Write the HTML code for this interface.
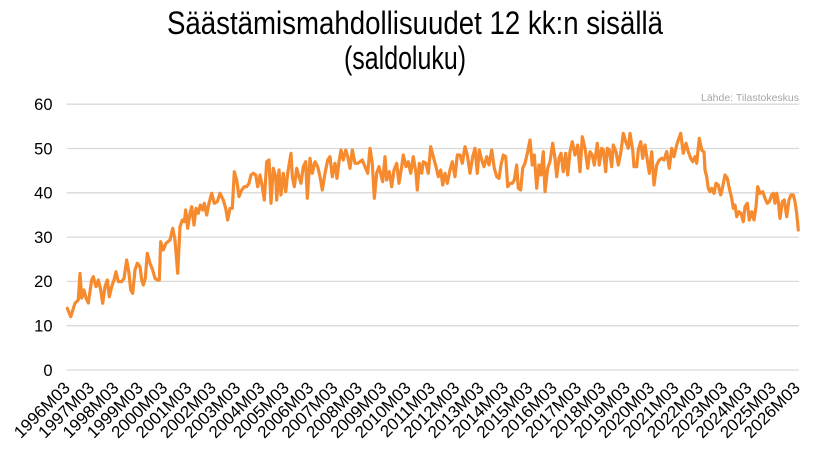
<!DOCTYPE html>
<html>
<head>
<meta charset="utf-8">
<style>
html,body{margin:0;padding:0;background:#ffffff;}
svg{display:block;}
</style>
</head>
<body>
<svg width="825" height="453" viewBox="0 0 825 453" xmlns="http://www.w3.org/2000/svg">
<rect width="825" height="453" fill="#ffffff"/>
<g font-family="'Liberation Sans', Arial, sans-serif" fill="#000">
<text x="167" y="34" font-size="32" textLength="496" lengthAdjust="spacingAndGlyphs">Säästämismahdollisuudet 12 kk:n sisällä</text>
<text x="344" y="69" font-size="32" textLength="122" lengthAdjust="spacingAndGlyphs">(saldoluku)</text>
</g>
<text x="799" y="101" font-family="'Liberation Sans', Arial, sans-serif" font-size="10.5" fill="#a6a6a6" text-anchor="end" textLength="98" lengthAdjust="spacingAndGlyphs">Lähde: Tilastokeskus</text>
<g stroke="#d9d9d9" stroke-width="1.3">
<line x1="66.7" y1="104.2" x2="799" y2="104.2"/>
<line x1="66.7" y1="148.5" x2="799" y2="148.5"/>
<line x1="66.7" y1="192.8" x2="799" y2="192.8"/>
<line x1="66.7" y1="237.1" x2="799" y2="237.1"/>
<line x1="66.7" y1="281.4" x2="799" y2="281.4"/>
<line x1="66.7" y1="325.7" x2="799" y2="325.7"/>
<line x1="66.7" y1="370" x2="799" y2="370"/>
</g>
<g font-family="'Liberation Sans', Arial, sans-serif" font-size="16.5" fill="#000" text-anchor="end">
<text x="52.5" y="110">60</text>
<text x="52.5" y="154.3">50</text>
<text x="52.5" y="198.6">40</text>
<text x="52.5" y="242.9">30</text>
<text x="52.5" y="287.2">20</text>
<text x="52.5" y="331.5">10</text>
<text x="52.5" y="375.8">0</text>
</g>
<g font-family="'Liberation Sans', Arial, sans-serif" font-size="17" fill="#000" text-anchor="end" id="xl"></g>
<polyline fill="none" stroke="#f68a2e" stroke-width="3.2" stroke-linejoin="round" stroke-linecap="round" points="
67.3,308.3 70.7,316.7 75,303.3 78.3,300 80,273.3 81.7,298 84,290 86,298 88.3,303 91.7,280 93.3,276.7 96,286.7 98.3,280 100.7,290 102.7,303.3 105,286.7 107.3,280 109.3,296.7 111.7,286.7 114,280 116,271.7 118.3,281.7 121.7,281.7 124,278.3 126.7,260 129,273.3 130.7,290 132.7,293.3 135,270 137.3,263.3 140,266.7 141.7,280 143.3,285 145.3,278.3 147.3,253.3 150,263.3 152.7,270 155,278.3 157.3,280 159.3,280 160.7,241.7 163.3,250 166,243.3 170,240 172.7,228.3
175,240 177.7,273.3 180,226.7 182.3,220 184.3,221.7 185.7,210 187.7,228.3 190,213.3 191.7,206.7 194,225 196,208.3 198.3,213.3 200.3,205 202.7,210 204.3,203.3 206.7,215 209,203.3 211.7,193.3 214.3,203.3 217.3,201.7 220,193.3 223.3,200 225.7,208.3 227.7,220 230,208.3 232.3,208.3 234.3,171.7 236.7,180 239,196.7 241.7,190 244.3,186.7 246.7,186.7 249,183.3 251,175 253.3,173.3 255.7,175 257.7,186.7 260,175 262.3,186.7 264.3,200 266.7,161.7 269,160 271,203.3 273.3,168.3 275.7,176.7
276.7,200 279,170 281,195 283.3,173.3 285.7,191.7 287.7,173.3 291,153.3 292.3,176.7 294.3,186.7 296.7,168.3 299,176.7 301,183.3 303.3,166.7 305.7,161.7 307.3,198.3 310,158.3 312.3,173.3 315,161.7 317.7,166.7 320,176.7 322.3,190 325,173.3 327.7,160 330,156.7 332.3,176.7 335,163.3 337,178.3 339,161.7 341,150 343.3,160 345.7,150 347.7,156.7 350,168.3 352.3,150 355,163.3 357.7,163.3 360,161.7 362.3,160 365,166.7 367.7,173.3 370,148.3 372.3,163.3 374.3,198.3 376.7,173.3 379,166.7
382.7,181.7 385,156.7 386.7,180 389.3,171.7 391.7,186.7 394,170 396.7,163.3 399,183.3 401.7,166.7 403.3,155 406,166.7 408.3,161.7 410.7,173.3 413.3,156.7 416,173.3 417.3,190 419.3,163.3 421.7,173.3 423.3,161.7 426,163.3 428.3,173.3 430.7,146.7 433.3,156.7 436,166.7 438.3,176.7 440.7,170 442.7,185 445,173.3 447.3,183.3 450,170 452.3,161.7 455,176.7 457.3,155 460,155 462.3,163.3 465,146.7 467.3,155 470,173.3 472.7,156.7 475,148.3 477.3,173.3 479.3,150 481.7,160 484,166.7 486.7,156.7
489,165 491.7,150 494.3,168.3 496.7,176.7 499,178.3 501,165 503.3,155 505.7,156.7 507.7,186.7 510,183.3 512.3,183.3 514.3,180 516.7,165 518.3,188.3 520.7,190 522.7,168.3 525,163.3 527.7,151.7 530,140 532.3,165 534.3,155 536.7,188.3 539,165 541,175 543.3,151.7 545,191.7 547.7,168.3 550,161.7 552.7,143.3 555,158.3 556.7,176.7 559,158.3 561,153.3 563.3,171.7 565.7,153.3 567.7,175 570,151.7 572.3,141.7 575,155 577.7,145 580,171.7 582.3,136.7 585,148.3 587.7,168.3 590,151.7 592.3,155 594.3,165
597.3,143.3 599.3,165 601.7,148.3 603.3,150 605.7,171.7 607.3,148.3 609.3,150 611.7,166.7 613.3,145 616,151.7 618.3,165 620.7,153.3 623.3,133.3 625.7,141.7 628.3,148.3 630,133.3 632.7,150 634,166.7 636.7,166.7 638.3,150 640.7,141.7 642.7,158.3 645,145 647.3,160 649.3,173.3 651.7,151.7 654,185 656.7,165 659.3,160 661.7,158.3 664,160 666.7,151.7 669.3,168.3 671.7,148.3 674,156.7 676.7,145 678.3,140 680.7,133.3 683.3,153.3 686,143.3 688.3,151.7 690.7,158.3 692.7,161.7 695,156.7 696.7,163.3 699.3,138.3 701.7,150 704,152
705,170 706.7,176.7 708.3,188.3 710,191.7 711.7,188.3 714,193.3 716,183.3 718.3,185 720.7,195 722.7,186.7 725,175 727.3,178.3 729.3,188.3 731.7,198.3 733.3,208.3 735,205 736.7,216.7 739,211.7 741,213.3 743.3,221.7 745,206.7 747.3,203.3 749.3,220 751.7,211.7 754,220 756,206.7 757.7,186.7 760,193.3 762.7,191.7 765,198.3 767.3,203.3 769.3,201.7 771.7,195 773.3,193.3 775,203.3 776.7,193.3 778.3,201.7 780,218.3 782.3,201.7 784.3,200 786.7,216.7 789,200 791,195 793.3,195 795,201.7 796.7,213.3 798.3,230"/>
<g font-family="'Liberation Sans', Arial, sans-serif" font-size="17" fill="#000" text-anchor="end">
<text transform="translate(71,389) rotate(-45)">1996M03</text>
<text transform="translate(95.3,389) rotate(-45)">1997M03</text>
<text transform="translate(119.7,389) rotate(-45)">1998M03</text>
<text transform="translate(144,389) rotate(-45)">1999M03</text>
<text transform="translate(168.4,389) rotate(-45)">2000M03</text>
<text transform="translate(192.7,389) rotate(-45)">2001M03</text>
<text transform="translate(217.1,389) rotate(-45)">2002M03</text>
<text transform="translate(241.4,389) rotate(-45)">2003M03</text>
<text transform="translate(265.8,389) rotate(-45)">2004M03</text>
<text transform="translate(290.1,389) rotate(-45)">2005M03</text>
<text transform="translate(314.5,389) rotate(-45)">2006M03</text>
<text transform="translate(338.8,389) rotate(-45)">2007M03</text>
<text transform="translate(363.2,389) rotate(-45)">2008M03</text>
<text transform="translate(387.5,389) rotate(-45)">2009M03</text>
<text transform="translate(411.9,389) rotate(-45)">2010M03</text>
<text transform="translate(436.2,389) rotate(-45)">2011M03</text>
<text transform="translate(460.6,389) rotate(-45)">2012M03</text>
<text transform="translate(484.9,389) rotate(-45)">2013M03</text>
<text transform="translate(509.3,389) rotate(-45)">2014M03</text>
<text transform="translate(533.6,389) rotate(-45)">2015M03</text>
<text transform="translate(558,389) rotate(-45)">2016M03</text>
<text transform="translate(582.3,389) rotate(-45)">2017M03</text>
<text transform="translate(606.7,389) rotate(-45)">2018M03</text>
<text transform="translate(631,389) rotate(-45)">2019M03</text>
<text transform="translate(655.4,389) rotate(-45)">2020M03</text>
<text transform="translate(679.7,389) rotate(-45)">2021M03</text>
<text transform="translate(704.1,389) rotate(-45)">2022M03</text>
<text transform="translate(728.4,389) rotate(-45)">2023M03</text>
<text transform="translate(752.8,389) rotate(-45)">2024M03</text>
<text transform="translate(777.1,389) rotate(-45)">2025M03</text>
<text transform="translate(801,389) rotate(-45)">2026M03</text>
</g>
</svg>
</body>
</html>
